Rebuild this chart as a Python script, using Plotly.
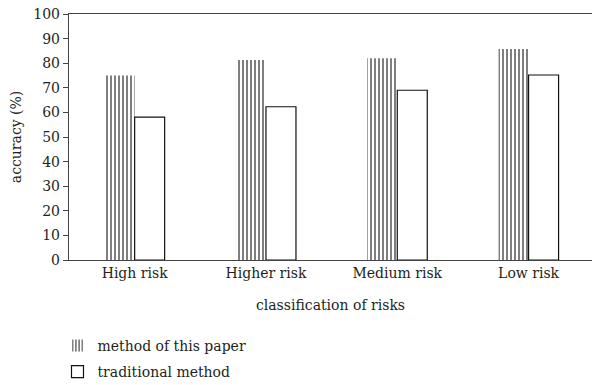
import plotly.graph_objects as go

categories = ["High risk", "Higher risk", "Medium risk", "Low risk"]
method_paper = [75.0, 81.3, 82.0, 85.8]
traditional = [58.1, 62.3, 69.0, 75.2]
y_ticks = list(range(0, 101, 10))

font_family = "DejaVu Serif, Liberation Serif, serif"
FS = 14
TXT = "#231f20"

fig = go.Figure()
fig.add_trace(go.Bar(
    x=categories, y=method_paper, name="method of this paper", legendgroup="a",
    marker=dict(color="white", line=dict(color="#111", width=0),
                pattern=dict(shape="|", size=4, solidity=0.5, fgcolor="#000", bgcolor="white")),
))
fig.add_trace(go.Bar(
    x=categories, y=traditional, name="traditional method", legendgroup="b",
    marker=dict(color="white", line=dict(color="#111", width=1.2)),
))

fig.update_layout(
    width=592, height=385,
    barmode="group", bargap=0.543, bargroupgap=0,
    plot_bgcolor="white", paper_bgcolor="white",
    margin=dict(l=69, r=0, t=14, b=125, autoexpand=False),
    font=dict(family=font_family, size=FS, color=TXT),
    xaxis=dict(
        range=[-0.5, 3.483], showline=True, linecolor="#444", linewidth=1.4,
        mirror=True, ticks="", showgrid=False, automargin=False,
        title=dict(text="classification of risks", standoff=20, font=dict(size=FS)),
        tickfont=dict(size=FS),
    ),
    yaxis=dict(
        range=[0, 100], tickvals=y_ticks, showline=True, linecolor="#444", linewidth=1.4,
        ticks="outside", ticklen=5, tickcolor="#444", showgrid=False, zeroline=False,
        automargin=False, tickfont=dict(size=FS),
    ),
    annotations=[dict(
        text="accuracy (%)", xref="paper", yref="paper", x=-0.101, y=0.5,
        xanchor="center", yanchor="middle", textangle=-90, showarrow=False,
        font=dict(size=FS, color=TXT),
    )],
    legend=dict(
        x=-0.022, y=-0.284, xanchor="left", yanchor="top",
        orientation="v", font=dict(size=FS), tracegroupgap=5, traceorder="grouped",
        itemwidth=30, bgcolor="rgba(0,0,0,0)",
    ),
    showlegend=True,
)

fig.write_html("out.html", config={"displayModeBar": False},
               post_script="document.body.style.margin='0px';")
